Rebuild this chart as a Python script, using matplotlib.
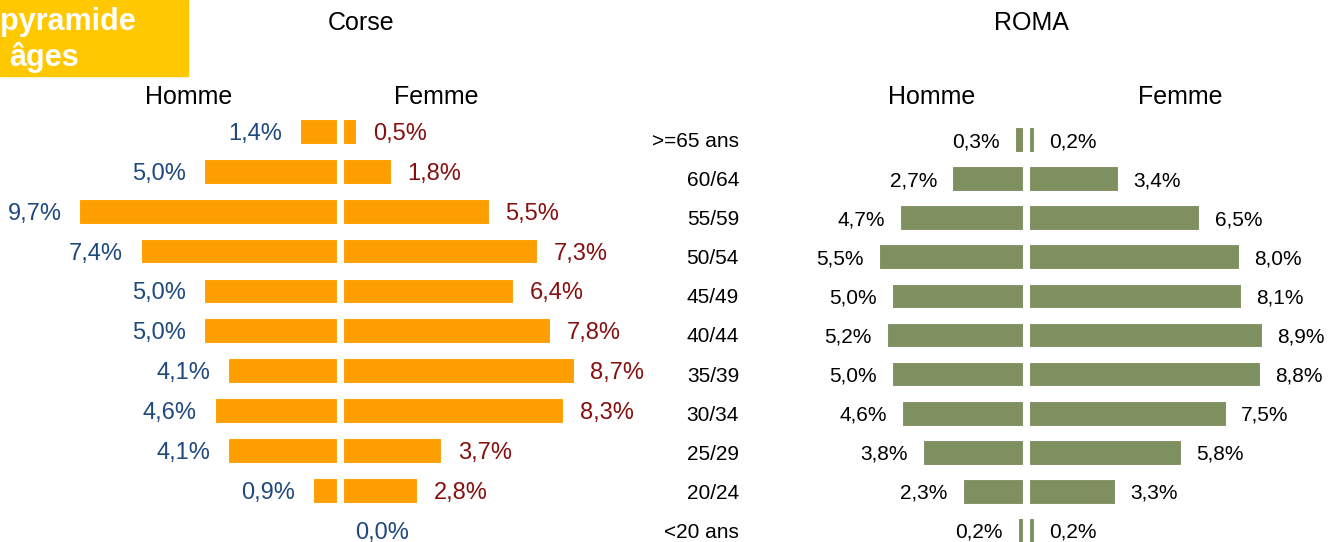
import matplotlib
matplotlib.use('Agg')
import matplotlib.pyplot as plt
import matplotlib.transforms as mtransforms
from matplotlib.patches import Rectangle

plt.rcParams['font.family'] = ['Liberation Sans', 'DejaVu Sans']

# DONNEES
ages = ['>=65 ans', '60/64', '55/59', '50/54', '45/49', '40/44',
        '35/39', '30/34', '25/29', '20/24', '<20 ans']
corse_homme = [1.4, 5.0, 9.7, 7.4, 5.0, 5.0, 4.1, 4.6, 4.1, 0.9, 0.0]
corse_femme = [0.5, 1.8, 5.5, 7.3, 6.4, 7.8, 8.7, 8.3, 3.7, 2.8, 0.0]
roma_homme = [0.3, 2.7, 4.7, 5.5, 5.0, 5.2, 5.0, 4.6, 3.8, 2.3, 0.2]
roma_femme = [0.2, 3.4, 6.5, 8.0, 8.1, 8.9, 8.8, 7.5, 5.8, 3.3, 0.2]

W, H = 1342, 542
fig = plt.figure(figsize=(W / 100, H / 100), dpi=100)


def fx(px):
    return px / W


def fy(py):
    return 1 - py / H


def pct(v):
    return f'{v:.1f}'.replace('.', ',') + '%'


# axe plein cadre : x en %, y en rang d'age
def make_axes(name, x0, sx, y0, sy):
    ax = fig.add_axes([0, 0, 1, 1], label=name)
    ax.set_xlim(-x0 / sx, (W - x0) / sx)
    ax.set_ylim((H - y0) / sy, -y0 / sy)
    ax.axis('off')
    ax.patch.set_alpha(0)
    return ax


def pyramide(ax, homme, femme, color, gap, height, pad_h, pad_f,
             col_h, col_f, fs):
    rows = range(len(homme))
    ax.barh(rows, homme, left=[-gap - v for v in homme], height=height,
            color=color, edgecolor='white', linewidth=0.8)
    ax.barh(rows, femme, left=gap, height=height,
            color=color, edgecolor='white', linewidth=0.8)
    for i, (h, f) in enumerate(zip(homme, femme)):
        if h == 0 and f == 0:
            ax.text(gap + pad_f * 0.75, i, pct(0), ha='left',
                    va='center_baseline', color=col_h, fontsize=fs)
            continue
        ax.text(-gap - h - pad_h, i, pct(h), ha='right', va='center_baseline',
                color=col_h, fontsize=fs)
        ax.text(gap + f + pad_f, i, pct(f), ha='left', va='center_baseline',
                color=col_f, fontsize=fs)


# Corse
ax1 = make_axes('corse', 340, 26.55, 131.5, 39.85)
pyramide(ax1, corse_homme, corse_femme, '#FF9E00', 0.113, 0.62,
         0.68, 0.62, '#1F497D', '#861010', 17)

# ROMA
ax2 = make_axes('roma', 1026, 26.2, 139.5, 39.1)
pyramide(ax2, roma_homme, roma_femme, '#7E8F60', 0.115, 0.63,
         0.58, 0.58, 'black', 'black', 15)

# tranches d'age
trans = mtransforms.blended_transform_factory(fig.transFigure, ax2.transData)
for i, a in enumerate(ages):
    ax2.text(fx(739), i, a, transform=trans, ha='right',
             va='center_baseline', fontsize=15, color='black')

# titres
fig.text(fx(361), fy(20), 'Corse', ha='center', va='center_baseline',
         fontsize=18)
fig.text(fx(1031), fy(20), 'ROMA', ha='center', va='center_baseline',
         fontsize=18)
for xc, lab in [(189, 'Homme'), (436, 'Femme'), (932, 'Homme'), (1180, 'Femme')]:
    fig.text(fx(xc), fy(94), lab, ha='center', va='center_baseline',
             fontsize=18)

# cartouche jaune
fig.patches.append(Rectangle((0, fy(76)), fx(188), 76 / H,
                             transform=fig.transFigure, color='#FFC800',
                             zorder=0))
fig.text(fx(0), fy(30), 'pyramide', ha='left', va='baseline',
         fontsize=22, fontweight='bold', color='white')
fig.text(fx(9), fy(66), 'âges', ha='left', va='baseline',
         fontsize=22, fontweight='bold', color='white')

fig.savefig('out.png', dpi=100)
